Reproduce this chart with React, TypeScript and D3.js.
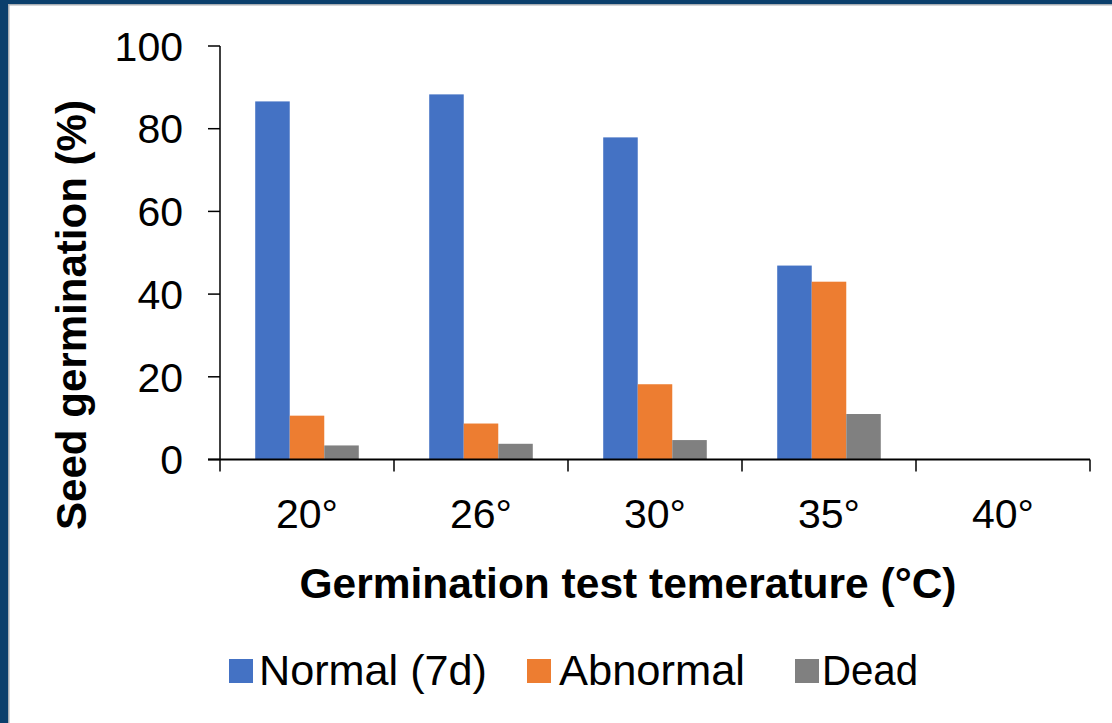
import React from "react";
import * as d3 from "d3";

const categories = ["20°", "26°", "30°", "35°", "40°"];
const seriesNames = ["Normal (7d)", "Abnormal", "Dead"];
const normal = [86.6, 88.3, 77.9, 46.9, 0];
const abnormal = [10.6, 8.7, 18.2, 43.0, 0];
const dead = [3.4, 3.8, 4.7, 11.0, 0];
const seriesColors = ["#4472C4", "#ED7D31", "#808080"];
const yTicks = [0, 20, 40, 60, 80, 100];

const W = 1112;
const H = 723;
const FONT = "'Liberation Sans', Arial, sans-serif";

export default function App() {
  const values = [normal, abnormal, dead];
  const x = d3.scaleBand<string>().domain(categories).range([220, 1090]).paddingInner(0).paddingOuter(0);
  const xs = d3.scaleBand<string>().domain(seriesNames).range([0, x.bandwidth()]).paddingInner(0).paddingOuter(1.02);
  const y = d3.scaleLinear().domain([0, 100]).range([459.5, 46]);
  const boundaries = categories.map((c) => x(c) as number).concat([x.range()[1]]);

  const legendItems = [
    { name: seriesNames[0], sq: 229, tx: 259, len: 228 },
    { name: seriesNames[1], sq: 527, tx: 559, len: 186 },
    { name: seriesNames[2], sq: 795, tx: 822, len: 96 },
  ];

  return (
    <div style={{ position: "fixed", left: 0, top: 0 }}>
      <svg width={W} height={H} style={{ display: "block", background: "#fff" }}>
        <rect x={0} y={0} width={W} height={H} fill="#ffffff" />
        {/* frame */}
        <rect x={0} y={0} width={W} height={4} fill="#0b3f6c" />
        <rect x={0} y={4} width={W} height={1.5} fill="#a9aeb4" />
        <rect x={0} y={0} width={8} height={H} fill="#0b3f6c" />
        <rect x={8} y={4} width={1.5} height={H} fill="#a9aeb4" />

        {/* bars */}
        {values.map((vals, si) =>
          categories.map((c, ci) => {
            const v = vals[ci];
            if (v <= 0) return null;
            const bx = (x(c) as number) + (xs(seriesNames[si]) as number);
            return (
              <rect
                key={`${si}-${ci}`}
                x={bx}
                y={y(v)}
                width={xs.bandwidth()}
                height={y(0) - y(v)}
                fill={seriesColors[si]}
              />
            );
          })
        )}

        {/* y axis */}
        <line x1={220} x2={220} y1={y(100)} y2={y(0)} stroke="#000" strokeWidth={1.5} />
        {yTicks.map((t) => (
          <g key={t}>
            <line x1={208} x2={220} y1={y(t)} y2={y(t)} stroke="#000" strokeWidth={1.5} />
            <text
              x={183}
              y={y(t)}
              dy="0.36em"
              textAnchor="end"
              fontFamily={FONT}
              fontSize={41}
              fill="#000"
            >
              {t}
            </text>
          </g>
        ))}

        {/* x axis */}
        <line x1={208} x2={x.range()[1]} y1={y(0)} y2={y(0)} stroke="#000" strokeWidth={2} />
        {boundaries.map((b, i) => (
          <line key={i} x1={b} x2={b} y1={y(0)} y2={y(0) + 12} stroke="#000" strokeWidth={1.5} />
        ))}
        {categories.map((c) => (
          <text
            key={c}
            x={(x(c) as number) + x.bandwidth() / 2}
            y={528}
            textAnchor="middle"
            fontFamily={FONT}
            fontSize={41}
            fill="#000"
          >
            {c}
          </text>
        ))}

        {/* axis titles */}
        <text
          x={628}
          y={598}
          textAnchor="middle"
          fontFamily={FONT}
          fontSize={42}
          fontWeight="bold"
          fill="#000"
          textLength={657}
          lengthAdjust="spacingAndGlyphs"
        >
          Germination test temerature (°C)
        </text>
        <text
          transform={`translate(86,315) rotate(-90)`}
          textAnchor="middle"
          fontFamily={FONT}
          fontSize={42}
          fontWeight="bold"
          fill="#000"
          textLength={430}
          lengthAdjust="spacingAndGlyphs"
        >
          Seed germination (%)
        </text>

        {/* legend */}
        {legendItems.map((it, i) => (
          <g key={it.name}>
            <rect x={it.sq} y={659} width={24} height={24} fill={seriesColors[i]} />
            <text
              x={it.tx}
              y={685}
              fontFamily={FONT}
              fontSize={42}
              fill="#000"
              textLength={it.len}
              lengthAdjust="spacingAndGlyphs"
            >
              {it.name}
            </text>
          </g>
        ))}
      </svg>
    </div>
  );
}
